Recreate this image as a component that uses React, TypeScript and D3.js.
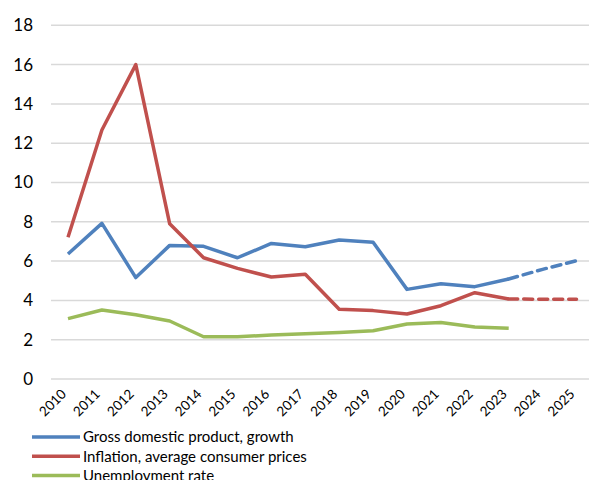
import React, { useEffect, useRef } from 'react';
import * as d3 from 'd3';

const years = ['2010', '2011', '2012', '2013', '2014', '2015', '2016', '2017', '2018', '2019', '2020', '2021', '2022', '2023', '2024', '2025'];
const gdpGrowth = [6.36, 7.92, 5.16, 6.8, 6.75, 6.17, 6.9, 6.73, 7.07, 6.96, 4.56, 4.85, 4.7, 5.09, 5.58, 6.02];
const inflation = [7.21, 12.67, 16.0, 7.9, 6.17, 5.63, 5.19, 5.33, 3.55, 3.48, 3.31, 3.73, 4.39, 4.07, 4.06, 4.06];
const unemployment = [3.07, 3.51, 3.27, 2.95, 2.15, 2.15, 2.24, 2.3, 2.37, 2.46, 2.8, 2.88, 2.65, 2.58];
const yTicks = [0, 2, 4, 6, 8, 10, 12, 14, 16, 18];
const lastActual = '2023';

const series = [
  { name: 'Gross domestic product, growth', values: gdpGrowth, color: '#4F81BD' },
  { name: 'Inflation, average consumer prices', values: inflation, color: '#C0504D' },
  { name: 'Unemployment rate', values: unemployment, color: '#9BBB59' },
];

const App = () => {
  const svgRef = useRef<SVGSVGElement>(null);

  useEffect(() => {
    const svg = d3.select(svgRef.current);
    svg.selectAll('*').remove();

    const width = 589;
    const font = 'Lato, sans-serif';

    const x = d3.scalePoint<string>().domain(years).range([68, 576.5]);
    const y = d3.scaleLinear().domain([0, 18]).range([379, 25.3]);

    // gridlines
    svg.append('g')
      .selectAll('line')
      .data(yTicks)
      .enter()
      .append('line')
      .attr('x1', 51)
      .attr('x2', width)
      .attr('y1', d => y(d))
      .attr('y2', d => y(d))
      .attr('stroke', '#D9D9D9')
      .attr('stroke-width', 1.5);

    // y labels
    svg.append('g')
      .selectAll('text')
      .data(yTicks)
      .enter()
      .append('text')
      .attr('x', 33)
      .attr('y', d => y(d))
      .attr('dy', '0.35em')
      .attr('text-anchor', 'end')
      .style('font-family', font)
      .attr('font-size', 17)
      .attr('fill', '#000')
      .text(d => d);

    // x labels
    svg.append('g')
      .selectAll('text')
      .data(years)
      .enter()
      .append('text')
      .attr('transform', d => `translate(${(x(d) as number) - 1},${395}) rotate(-45)`)
      .attr('text-anchor', 'end')
      .style('font-family', font)
      .attr('font-size', 13.5)
      .attr('fill', '#000')
      .text(d => d);

    const line = d3.line<number>()
      .x((_, i) => x(years[i]) as number)
      .y(d => y(d));

    const cut = years.indexOf(lastActual);

    series.forEach(s => {
      const solid = s.values.slice(0, cut + 1);
      svg.append('path')
        .attr('d', line(solid))
        .attr('fill', 'none')
        .attr('stroke', s.color)
        .attr('stroke-width', 3.5)
        .attr('stroke-linejoin', 'round');

      if (s.values.length > cut + 1) {
        const dashed = d3.line<number>()
          .x((_, i) => x(years[i + cut]) as number)
          .y(d => y(d));
        svg.append('path')
          .attr('d', dashed(s.values.slice(cut)))
          .attr('fill', 'none')
          .attr('stroke', s.color)
          .attr('stroke-width', 3.5)
          .attr('stroke-linecap', 'round')
          .attr('stroke-dasharray', '9 6');
      }
    });

    // legend
    const legend = svg.append('g')
      .selectAll('g')
      .data(series)
      .enter()
      .append('g')
      .attr('transform', (_, i) => `translate(0,${437 + i * 19.3})`);

    legend.append('line')
      .attr('x1', 32)
      .attr('x2', 80)
      .attr('y1', 0)
      .attr('y2', 0)
      .attr('stroke', d => d.color)
      .attr('stroke-width', 3.5);

    legend.append('text')
      .attr('x', 83)
      .attr('y', 0)
      .attr('dy', '0.35em')
      .style('font-family', font)
      .attr('font-size', 15)
      .attr('fill', '#000')
      .text(d => d.name);
  }, []);

  return (
    <svg
      ref={svgRef}
      width={589}
      height={480}
      style={{ position: 'absolute', left: 0, top: 0, background: '#fff' }}
    />
  );
};

export default App;
